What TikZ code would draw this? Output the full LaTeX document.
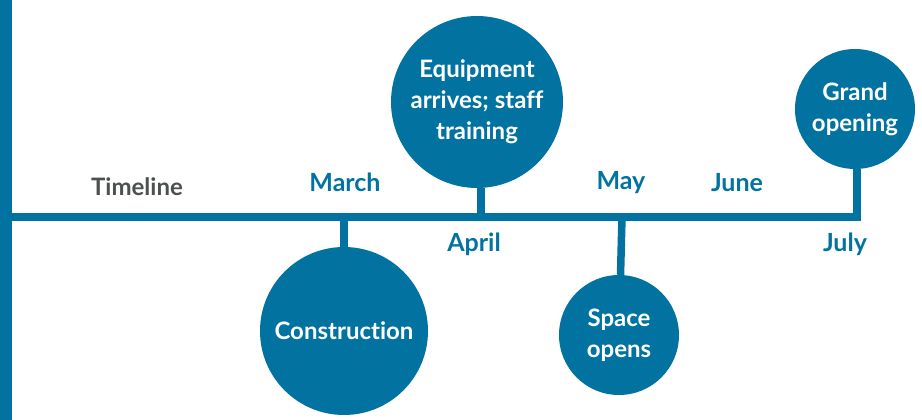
\documentclass[tikz,border=0pt]{standalone}
\usepackage{fontspec}
\setmainfont{Lato}[Ligatures=NoCommon]
\definecolor{tlblue}{HTML}{0273A0}
\definecolor{tlgray}{HTML}{4B5050}

\begin{document}
\begin{tikzpicture}[x=1pt,y=-1pt,
    event/.style={circle,fill=tlblue,text=white,align=center,inner sep=0pt,
      font=\bfseries\fontsize{24}{31}\selectfont},
    month/.style={text=tlblue,font=\bfseries\fontsize{25}{25}\selectfont},
    stem/.style={draw=tlblue,line width=7.5pt}]
    \useasboundingbox (0,0) rectangle (922,420);

    % axis
    \coordinate (B0) at (6,0);
    \coordinate (B1) at (6,420);
    \coordinate (T0) at (12,217);
    \coordinate (T1) at (857,217);
    \draw[tlblue,line width=12.5pt] (B0) -- (B1);

    \node[text=tlgray,font=\bfseries\fontsize{24}{24}\selectfont] (TL) at (137,187) {Timeline};

    % events
    \node[event,minimum size=168pt] (C) at (344,331) {Construction};
    \node[event,minimum size=172pt] (E) at (477,102)
      {\fontsize{24}{29}\selectfont Equipment\\arrives; staff\\training};
    \node[event,minimum size=120pt] (S) at (619,335) {Space\\opens};
    \node[event,minimum size=120pt] (G) at (855,109) {Grand\\opening};

    \coordinate (CM) at (344,217);
    \coordinate (EM) at (481,217);
    \coordinate (SM) at (622,217);

    % months
    \node[month] (MAR) at (345,182) {March};
    \node[month] (APR) at (474,244) {April};
    \node[month] (MAY) at (621,183) {May};
    \node[month] (JUN) at (737,183) {June};
    \node[month] (JUL) at (845,244) {July};

    \draw[stem] (CM) -- (C);
    \draw[stem] (EM) -- (EM |- E.south);
    \draw[stem] (SM) -- (S);
    \draw[stem,line width=8.5pt] (T0) -- (T1) -- (T1 |- G.south);
\end{tikzpicture}
\end{document}
